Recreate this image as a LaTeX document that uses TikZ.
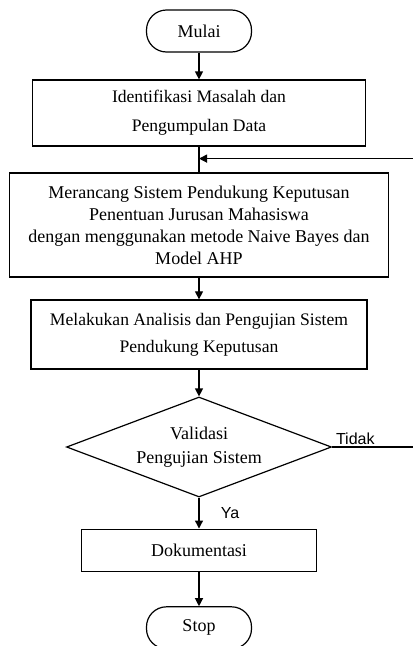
\documentclass[tikz,border=0pt]{standalone}
\usepackage{fontspec}
\setmainfont{Liberation Serif}
\newfontfamily\labelfont{Liberation Sans}
\usetikzlibrary{shapes.geometric, arrows.meta}

\begin{document}
\begin{tikzpicture}[x=0.75pt, y=-0.75pt, >={Triangle[length=6pt, width=6pt]},
    line width=0.9pt,
    startstop/.style={draw, rectangle, rounded corners=15pt, minimum width=78.75pt, minimum height=31.5pt, font=\fontsize{13.5}{16}\selectfont},
    process/.style={draw, rectangle, align=center, inner sep=2pt},
    decision/.style={draw, diamond, aspect=2.65, align=center, inner sep=0pt, minimum width=198.75pt, minimum height=75pt, font=\fontsize{13.5}{18}\selectfont},
    answer/.style={font=\labelfont\fontsize{12}{14}\selectfont, inner sep=1pt}]

    \useasboundingbox (0,0) rectangle (412,646);

    \node [startstop] (mulai) at (199,31) {Mulai};
    \node [process, minimum width=249.75pt, minimum height=49.5pt, font=\fontsize{13.2}{22}\selectfont] (ident) [below of=mulai, node distance=61.5pt] {Identifikasi Masalah dan\\Pengumpulan Data};
    \node [process, minimum width=284pt, minimum height=78pt, font=\fontsize{13.5}{16.5}\selectfont] (rancang) [below of=ident, node distance=84pt] {Merancang Sistem Pendukung Keputusan\\Penentuan Jurusan Mahasiswa\\dengan menggunakan metode Naive Bayes dan\\Model AHP};
    \node [process, minimum width=252pt, minimum height=51.75pt, font=\fontsize{13.2}{20}\selectfont] (analisis) [below of=rancang, node distance=82.1pt] {Melakukan Analisis dan Pengujian Sistem\\Pendukung Keputusan};
    \node [decision] (valid) [below of=analisis, node distance=84.4pt] {Validasi\\Pengujian Sistem};
    \node [process, minimum width=176pt, minimum height=32pt, font=\fontsize{13.5}{16}\selectfont] (dok) [below of=valid, node distance=77.6pt] {Dokumentasi};
    \node [startstop] (stop) [below of=dok, node distance=58pt] {Stop};

    \coordinate (join) at ([yshift=-9pt]ident.south);
    \coordinate (far) at ([xshift=70pt]valid.east);

    \draw[->] (mulai) -- (ident);
    \draw (ident) -- (rancang);
    \draw[->] (rancang) -- (analisis);
    \draw[->] (analisis) -- (valid);
    \draw[->] (valid) -- node[answer, right, xshift=15pt] (ya) {Ya} (dok);
    \draw[->] (dok) -- (stop);

    \draw[->] (valid.east) -- (far) |- (join);
    \node [answer, anchor=south west] (tidak) at ([xshift=1.5pt, yshift=0.5pt]valid.east) {Tidak};

\end{tikzpicture}
\end{document}
